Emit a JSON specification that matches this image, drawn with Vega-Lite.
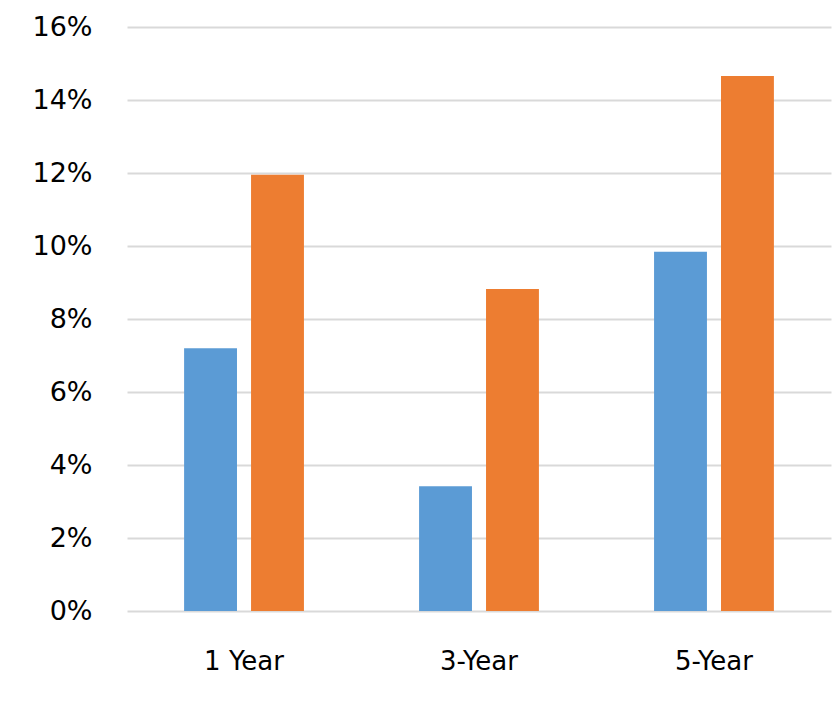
{
  "$schema": "https://vega.github.io/schema/vega-lite/v6.json",
  "autosize": {"type": "none"},
  "padding": {"left": 127, "top": 27, "right": 5, "bottom": 103},
  "width": 704,
  "height": 584,
  "background": "white",
  "data": {
    "values": [
      {"period": "1 Year", "series": "A", "value": 0.072},
      {"period": "1 Year", "series": "B", "value": 0.1195},
      {"period": "3-Year", "series": "A", "value": 0.0342},
      {"period": "3-Year", "series": "B", "value": 0.0882},
      {"period": "5-Year", "series": "A", "value": 0.0984},
      {"period": "5-Year", "series": "B", "value": 0.1466}
    ]
  },
  "config": {
    "view": {"stroke": null},
    "font": "DejaVu Sans"
  },
  "mark": {"type": "bar"},
  "encoding": {
    "x": {
      "field": "period",
      "type": "nominal",
      "sort": null,
      "scale": {"paddingInner": 0.49, "paddingOuter": 0.243},
      "axis": {
        "title": null,
        "labelAngle": 0,
        "ticks": false,
        "domain": false,
        "labelFontSize": 26,
        "labelColor": "#000",
        "labelPadding": 37
      }
    },
    "xOffset": {
      "field": "series",
      "type": "nominal",
      "scale": {"paddingInner": 0.21}
    },
    "y": {
      "field": "value",
      "type": "quantitative",
      "scale": {"domain": [0, 0.16], "nice": false},
      "axis": {
        "title": null,
        "format": ".0%",
        "values": [0, 0.02, 0.04, 0.06, 0.08, 0.1, 0.12, 0.14, 0.16],
        "ticks": false,
        "domain": false,
        "gridColor": "#D9D9D9",
        "gridWidth": 2,
        "labelFontSize": 27,
        "labelColor": "#000",
        "labelPadding": 35
      }
    },
    "color": {
      "field": "series",
      "type": "nominal",
      "scale": {"domain": ["A", "B"], "range": ["#5B9BD5", "#ED7D31"]},
      "legend": null
    }
  }
}
